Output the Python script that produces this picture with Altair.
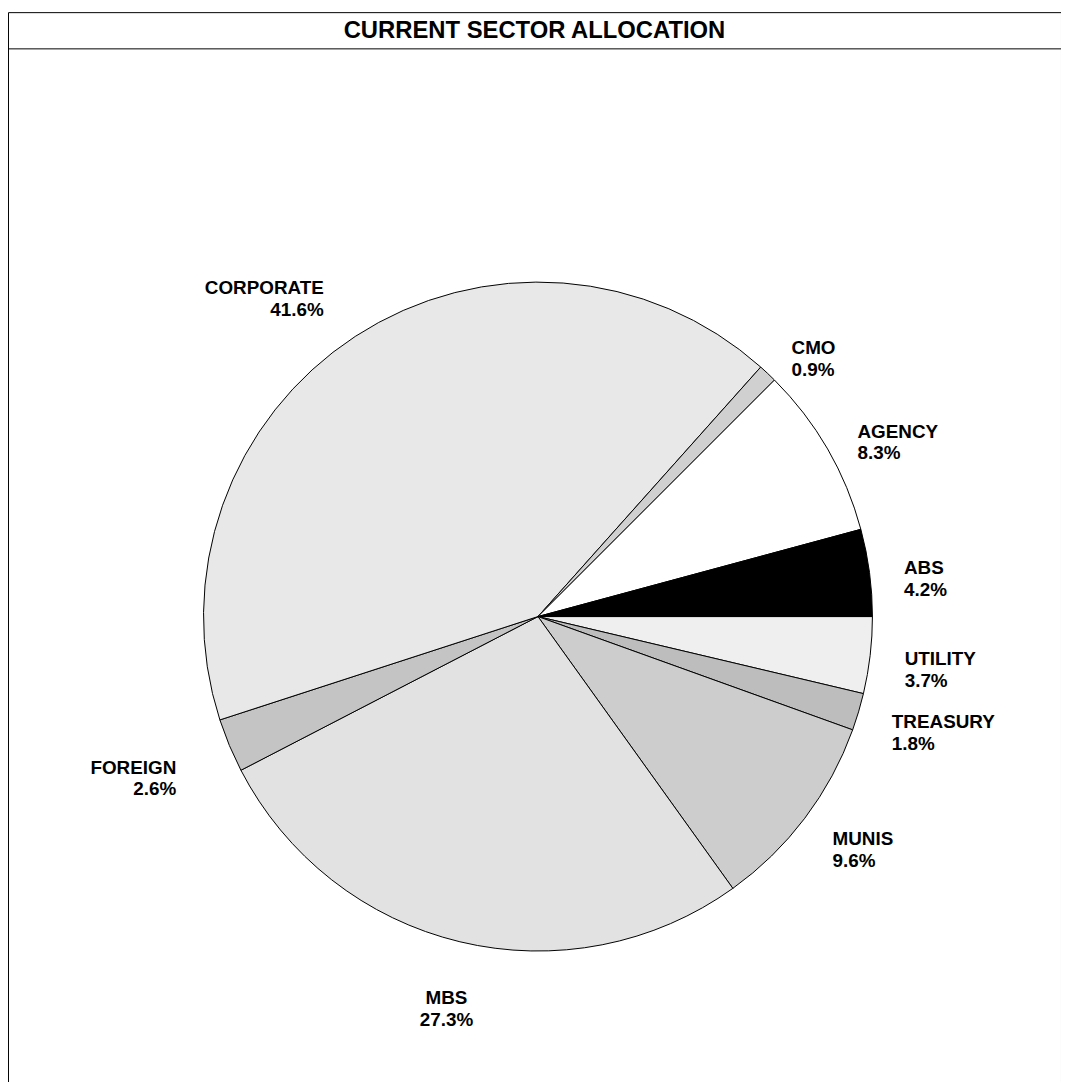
import altair as alt
import pandas as pd

sectors = ["UTILITY", "TREASURY", "MUNIS", "MBS", "FOREIGN", "CORPORATE", "CMO", "AGENCY", "ABS"]
shares = [3.7, 1.8, 9.6, 27.3, 2.6, 41.6, 0.9, 8.3, 4.2]
fills = ["#efefef", "#bdbdbd", "#cdcdcd", "#e2e2e2", "#c4c4c4", "#e8e8e8", "#d0d0d0", "#ffffff", "#000000"]
sides = ["left", "left", "left", "center", "right", "right", "left", "left", "left"]

df = pd.DataFrame({
    "sector": sectors,
    "share": shares,
    "order": list(range(len(sectors))),
    "side": sides,
    "label": [f"{s}\n{v}%" for s, v in zip(sectors, shares)],
})

W, H = 1061, 1100
CX, CY = 534, 609
PI = 3.141592653589793
total = sum(shares)
tscale = alt.Scale(domain=[0, total], range=[PI / 2, PI / 2 + 2 * PI])

pie = alt.Chart(df).mark_arc(outerRadius=337, stroke="black", strokeWidth=1).encode(
    theta=alt.Theta("share:Q", stack=True, scale=tscale),
    order=alt.Order("order:Q"),
    x=alt.value(CX), y=alt.value(CY),
    color=alt.Color("sector:N", scale=alt.Scale(domain=sectors, range=fills), legend=None),
)


def label_layer(side, radius):
    return alt.Chart(df).transform_stack(
        stack="share", groupby=[], sort=[alt.SortField("order")], as_=["s0", "s1"]
    ).transform_calculate(
        mid="(datum.s0 + datum.s1) / 2"
    ).transform_filter(
        alt.datum.side == side
    ).mark_text(
        radius=radius, font="Liberation Sans", fontWeight="bold", fontSize=19,
        lineBreak="\n", align=side, baseline="middle", lineHeight=22,
    ).encode(
        theta=alt.Theta("mid:Q", stack=False, scale=tscale),
        x=alt.value(CX), y=alt.value(CY), text="label:N",
    )


labels = label_layer("left", 372) + label_layer("right", 395) + label_layer("center", 395)

title = alt.Chart(pd.DataFrame({"t": ["CURRENT SECTOR ALLOCATION"]})).mark_text(
    font="Liberation Sans", fontWeight="bold", fontSize=24, baseline="middle"
).encode(x=alt.value(W / 2), y=alt.value(19), text="t:N")

rule = alt.Chart(pd.DataFrame({"a": [0]})).mark_rule(color="black").encode(
    x=alt.value(0), x2=alt.value(W), y=alt.value(37)
)

chart = (pie + labels + title + rule).properties(
    width=W, height=H, padding=0, autosize=alt.AutoSizeParams(type="none")
).configure_view(stroke="black", strokeWidth=1)

chart.save("out.html", embed_options={"renderer": "svg", "actions": False})
